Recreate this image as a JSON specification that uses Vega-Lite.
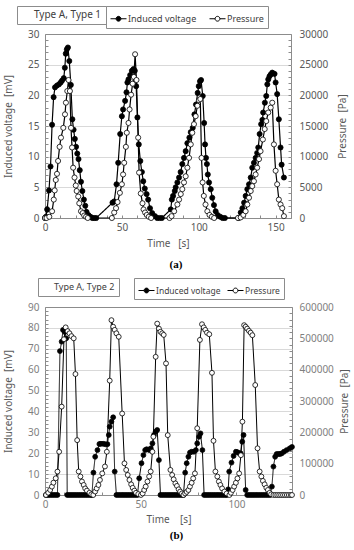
{
 "$schema": "https://vega.github.io/schema/vega-lite/v6.json",
 "background": "white",
 "padding": {"left": 3, "top": 5, "right": 2, "bottom": 2},
 "config": {
  "font": "Noto Sans",
  "view": {"stroke": "#8c8c8c", "strokeWidth": 1},
  "axis": {"domain": false, "labelFontSize": 10, "labelColor": "#595959", "titleFontSize": 10, "titleFontWeight": "normal", "titleColor": "#595959", "tickColor": "#8c8c8c", "labelFont": "Noto Sans", "titleFont": "Noto Sans"},
  "legend": {"labelFontSize": 9, "labelColor": "#404040", "labelFont": "Noto Sans"}
 },
 "datasets": {
  "a": [
   {"t":0,"v":0,"s":"V"},{"t":0.6,"v":0.2,"s":"V"},{"t":1.4,"v":1.4,"s":"V"},{"t":2.6,"v":4.5,"s":"V"},{"t":3.6,"v":8.4,"s":"V"},{"t":4.6,"v":15.2,"s":"V"},{"t":5.6,"v":19.7,"s":"V"},{"t":6.5,"v":21.3,"s":"V"},{"t":7.8,"v":21.6,"s":"V"},{"t":9.1,"v":21.8,"s":"V"},{"t":10.2,"v":22.1,"s":"V"},{"t":11.1,"v":22.4,"s":"V"},{"t":12.2,"v":22.8,"s":"V"},{"t":12.9,"v":24.5,"s":"V"},{"t":13.5,"v":26.8,"s":"V"},{"t":14.2,"v":27.5,"s":"V"},{"t":14.9,"v":27.8,"s":"V"},{"t":15.8,"v":25.6,"s":"V"},{"t":16.8,"v":21.7,"s":"V"},{"t":17.8,"v":16.1,"s":"V"},{"t":18.6,"v":14.4,"s":"V"},{"t":19.4,"v":12.9,"s":"V"},{"t":20.2,"v":11.6,"s":"V"},{"t":21.0,"v":10.5,"s":"V"},{"t":21.8,"v":9.6,"s":"V"},{"t":22.6,"v":7.8,"s":"V"},{"t":23.4,"v":5.9,"s":"V"},{"t":24.3,"v":4.4,"s":"V"},{"t":25.3,"v":3.0,"s":"V"},{"t":26.2,"v":2.0,"s":"V"},{"t":27.0,"v":1.0,"s":"V"},{"t":28.2,"v":0.5,"s":"V"},{"t":29.6,"v":0.2,"s":"V"},{"t":30.8,"v":0,"s":"V"},{"t":32.0,"v":0,"s":"V"},{"t":33.3,"v":0,"s":"V"},
   {"t":43.9,"v":2.5,"s":"V"},{"t":45.0,"v":2.7,"s":"V"},{"t":46.5,"v":5.5,"s":"V"},{"t":47.6,"v":9.0,"s":"V"},{"t":48.9,"v":13.7,"s":"V"},{"t":50.0,"v":16.6,"s":"V"},{"t":50.8,"v":17.7,"s":"V"},{"t":52.1,"v":19.1,"s":"V"},{"t":53.0,"v":20.5,"s":"V"},{"t":53.6,"v":22.1,"s":"V"},{"t":54.3,"v":22.6,"s":"V"},{"t":55.4,"v":23.3,"s":"V"},{"t":56.5,"v":24.0,"s":"V"},{"t":57.6,"v":24.3,"s":"V"},{"t":58.4,"v":24.0,"s":"V"},{"t":59.3,"v":21.5,"s":"V"},{"t":60.1,"v":16.4,"s":"V"},{"t":61.0,"v":12.0,"s":"V"},{"t":62.0,"v":9.3,"s":"V"},{"t":63.0,"v":7.5,"s":"V"},{"t":63.9,"v":6.0,"s":"V"},{"t":64.9,"v":4.8,"s":"V"},{"t":66.1,"v":3.9,"s":"V"},{"t":67.1,"v":3.0,"s":"V"},{"t":68.3,"v":1.6,"s":"V"},{"t":69.7,"v":0.8,"s":"V"},{"t":71.5,"v":0.3,"s":"V"},{"t":73.0,"v":0,"s":"V"},{"t":74.5,"v":0,"s":"V"},{"t":76.0,"v":0,"s":"V"},
   {"t":81.8,"v":1.4,"s":"V"},{"t":82.5,"v":3.0,"s":"V"},{"t":83.3,"v":3.6,"s":"V"},{"t":84.4,"v":4.4,"s":"V"},{"t":85.0,"v":5.0,"s":"V"},{"t":86.1,"v":5.8,"s":"V"},{"t":87.2,"v":6.6,"s":"V"},{"t":88.2,"v":7.5,"s":"V"},{"t":89.3,"v":8.8,"s":"V"},{"t":90.4,"v":9.8,"s":"V"},{"t":91.5,"v":10.9,"s":"V"},{"t":92.6,"v":12.2,"s":"V"},{"t":93.9,"v":13.1,"s":"V"},{"t":94.8,"v":14.0,"s":"V"},{"t":96.1,"v":14.7,"s":"V"},{"t":97.2,"v":16.9,"s":"V"},{"t":98.2,"v":18.5,"s":"V"},{"t":99.3,"v":20.4,"s":"V"},{"t":100.0,"v":21.5,"s":"V"},{"t":100.8,"v":22.3,"s":"V"},{"t":101.5,"v":22.5,"s":"V"},{"t":102.6,"v":19.9,"s":"V"},{"t":103.5,"v":15.5,"s":"V"},{"t":104.1,"v":12.0,"s":"V"},{"t":104.7,"v":9.8,"s":"V"},{"t":105.3,"v":8.8,"s":"V"},{"t":105.9,"v":7.1,"s":"V"},{"t":106.7,"v":5.8,"s":"V"},{"t":107.8,"v":4.7,"s":"V"},{"t":108.8,"v":3.3,"s":"V"},{"t":109.9,"v":2.1,"s":"V"},{"t":111.0,"v":1.1,"s":"V"},{"t":112.3,"v":0.5,"s":"V"},{"t":114.0,"v":0.2,"s":"V"},{"t":115.5,"v":0,"s":"V"},{"t":117.0,"v":0,"s":"V"},
   {"t":126.0,"v":0,"s":"V"},{"t":127.3,"v":0.9,"s":"V"},{"t":128.4,"v":1.6,"s":"V"},{"t":129.5,"v":2.5,"s":"V"},{"t":130.5,"v":3.6,"s":"V"},{"t":131.6,"v":4.7,"s":"V"},{"t":132.7,"v":5.5,"s":"V"},{"t":133.8,"v":6.6,"s":"V"},{"t":134.8,"v":8.2,"s":"V"},{"t":135.9,"v":9.0,"s":"V"},{"t":137.0,"v":9.8,"s":"V"},{"t":138.0,"v":10.6,"s":"V"},{"t":138.7,"v":11.5,"s":"V"},{"t":139.6,"v":13.7,"s":"V"},{"t":140.6,"v":15.3,"s":"V"},{"t":141.4,"v":16.0,"s":"V"},{"t":141.9,"v":17.2,"s":"V"},{"t":143.0,"v":18.8,"s":"V"},{"t":143.9,"v":19.9,"s":"V"},{"t":144.6,"v":21.8,"s":"V"},{"t":145.2,"v":22.6,"s":"V"},{"t":146.0,"v":23.1,"s":"V"},{"t":146.8,"v":23.4,"s":"V"},{"t":147.8,"v":23.7,"s":"V"},{"t":149.3,"v":23.5,"s":"V"},{"t":150.0,"v":22.1,"s":"V"},{"t":151.0,"v":20.2,"s":"V"},{"t":152.1,"v":16.1,"s":"V"},{"t":153.2,"v":11.5,"s":"V"},{"t":153.9,"v":8.7,"s":"V"},{"t":155.4,"v":6.6,"s":"V"},
   {"t":0,"v":0,"s":"P"},{"t":1.0,"v":0,"s":"P"},{"t":2.8,"v":200,"s":"P"},{"t":4.6,"v":1100,"s":"P"},{"t":5.7,"v":3000,"s":"P"},{"t":6.3,"v":4500,"s":"P"},{"t":7.0,"v":6200,"s":"P"},{"t":7.8,"v":7200,"s":"P"},{"t":8.5,"v":9300,"s":"P"},{"t":9.5,"v":11600,"s":"P"},{"t":10.4,"v":13100,"s":"P"},{"t":11.9,"v":14700,"s":"P"},{"t":13.0,"v":16900,"s":"P"},{"t":13.6,"v":18800,"s":"P"},{"t":14.5,"v":20700,"s":"P"},{"t":15.3,"v":22500,"s":"P"},{"t":16.2,"v":20700,"s":"P"},{"t":16.9,"v":14700,"s":"P"},{"t":17.6,"v":11500,"s":"P"},{"t":18.3,"v":8200,"s":"P"},{"t":19.2,"v":6600,"s":"P"},{"t":20.0,"v":5300,"s":"P"},{"t":20.6,"v":4400,"s":"P"},{"t":21.6,"v":3500,"s":"P"},{"t":22.3,"v":2400,"s":"P"},{"t":23.4,"v":1100,"s":"P"},{"t":24.5,"v":800,"s":"P"},{"t":25.5,"v":400,"s":"P"},{"t":26.7,"v":200,"s":"P"},{"t":27.8,"v":0,"s":"P"},
   {"t":43.5,"v":0,"s":"P"},{"t":45.0,"v":900,"s":"P"},{"t":46.2,"v":1600,"s":"P"},{"t":47.2,"v":2600,"s":"P"},{"t":48.7,"v":4100,"s":"P"},{"t":50.0,"v":5500,"s":"P"},{"t":50.8,"v":7100,"s":"P"},{"t":51.5,"v":9000,"s":"P"},{"t":52.6,"v":11600,"s":"P"},{"t":53.2,"v":13900,"s":"P"},{"t":54.3,"v":15500,"s":"P"},{"t":55.0,"v":17700,"s":"P"},{"t":56.0,"v":20100,"s":"P"},{"t":57.0,"v":21900,"s":"P"},{"t":57.8,"v":23000,"s":"P"},{"t":58.6,"v":26700,"s":"P"},{"t":59.5,"v":22500,"s":"P"},{"t":60.6,"v":13100,"s":"P"},{"t":61.2,"v":7400,"s":"P"},{"t":62.3,"v":4000,"s":"P"},{"t":63.4,"v":2400,"s":"P"},{"t":64.1,"v":1400,"s":"P"},{"t":65.1,"v":900,"s":"P"},{"t":66.2,"v":500,"s":"P"},{"t":67.5,"v":200,"s":"P"},{"t":69.0,"v":0,"s":"P"},
   {"t":81.0,"v":0,"s":"P"},{"t":82.3,"v":300,"s":"P"},{"t":84.0,"v":1100,"s":"P"},{"t":86.1,"v":2200,"s":"P"},{"t":87.2,"v":3000,"s":"P"},{"t":88.3,"v":3900,"s":"P"},{"t":89.3,"v":4700,"s":"P"},{"t":90.4,"v":5800,"s":"P"},{"t":91.5,"v":6800,"s":"P"},{"t":92.6,"v":8200,"s":"P"},{"t":93.7,"v":9800,"s":"P"},{"t":94.8,"v":12000,"s":"P"},{"t":95.8,"v":13900,"s":"P"},{"t":96.9,"v":15300,"s":"P"},{"t":98.0,"v":16600,"s":"P"},{"t":99.1,"v":18300,"s":"P"},{"t":100.1,"v":19200,"s":"P"},{"t":101.0,"v":19400,"s":"P"},{"t":101.8,"v":9800,"s":"P"},{"t":102.5,"v":5800,"s":"P"},{"t":103.3,"v":3600,"s":"P"},{"t":104.4,"v":2200,"s":"P"},{"t":105.6,"v":1100,"s":"P"},{"t":107.0,"v":500,"s":"P"},{"t":108.5,"v":200,"s":"P"},{"t":110.0,"v":0,"s":"P"},
   {"t":125.5,"v":0,"s":"P"},{"t":127.3,"v":100,"s":"P"},{"t":129.0,"v":500,"s":"P"},{"t":130.5,"v":1100,"s":"P"},{"t":131.6,"v":2200,"s":"P"},{"t":132.7,"v":3300,"s":"P"},{"t":133.8,"v":4400,"s":"P"},{"t":134.8,"v":5200,"s":"P"},{"t":135.9,"v":6000,"s":"P"},{"t":137.0,"v":7100,"s":"P"},{"t":138.0,"v":8200,"s":"P"},{"t":139.2,"v":9600,"s":"P"},{"t":140.2,"v":10900,"s":"P"},{"t":141.7,"v":12800,"s":"P"},{"t":142.9,"v":14500,"s":"P"},{"t":143.9,"v":15800,"s":"P"},{"t":145.2,"v":17200,"s":"P"},{"t":146.8,"v":18000,"s":"P"},{"t":147.8,"v":18800,"s":"P"},{"t":148.9,"v":12000,"s":"P"},{"t":150.0,"v":7700,"s":"P"},{"t":151.0,"v":5500,"s":"P"},{"t":152.1,"v":3000,"s":"P"},{"t":153.2,"v":2200,"s":"P"},{"t":154.3,"v":1600,"s":"P"},{"t":155.4,"v":300,"s":"P"}
  ],
  "b": [
   {"t":0.5,"v":0,"s":"V"},{"t":1.5,"v":0,"s":"V"},{"t":2.5,"v":0,"s":"V"},{"t":3.5,"v":0,"s":"V"},{"t":4.5,"v":0,"s":"V"},{"t":5.5,"v":0,"s":"V"},{"t":6.5,"v":0,"s":"V"},{"t":7.8,"v":68.9,"s":"V"},{"t":8.7,"v":73.4,"s":"V"},{"t":9.4,"v":79.0,"s":"V"},{"t":10.4,"v":78.0,"s":"V"},{"t":11.1,"v":75.0,"s":"V"},{"t":11.6,"v":0,"s":"V"},{"t":12.6,"v":0,"s":"V"},{"t":13.6,"v":0,"s":"V"},{"t":14.6,"v":0,"s":"V"},{"t":15.6,"v":0,"s":"V"},{"t":16.6,"v":0,"s":"V"},{"t":17.6,"v":0,"s":"V"},{"t":18.6,"v":0,"s":"V"},{"t":19.6,"v":0,"s":"V"},{"t":20.6,"v":0,"s":"V"},{"t":21.6,"v":0,"s":"V"},{"t":22.6,"v":0,"s":"V"},{"t":23.6,"v":0,"s":"V"},{"t":24.5,"v":0,"s":"V"},
   {"t":25.3,"v":10.7,"s":"V"},{"t":26.2,"v":18.3,"s":"V"},{"t":27.4,"v":21.5,"s":"V"},{"t":28.4,"v":24.4,"s":"V"},{"t":29.2,"v":24.5,"s":"V"},{"t":30.4,"v":24.5,"s":"V"},{"t":31.5,"v":24.3,"s":"V"},{"t":32.6,"v":24.3,"s":"V"},{"t":33.3,"v":28.7,"s":"V"},{"t":33.8,"v":32.7,"s":"V"},{"t":34.7,"v":35.1,"s":"V"},{"t":35.6,"v":37.2,"s":"V"},{"t":36.4,"v":11.2,"s":"V"},{"t":37.3,"v":0,"s":"V"},{"t":38.3,"v":0,"s":"V"},{"t":39.3,"v":0,"s":"V"},{"t":40.3,"v":0,"s":"V"},{"t":41.3,"v":0,"s":"V"},{"t":42.3,"v":0,"s":"V"},{"t":43.3,"v":0,"s":"V"},{"t":44.3,"v":0,"s":"V"},{"t":45.3,"v":0,"s":"V"},{"t":46.3,"v":0,"s":"V"},{"t":47.3,"v":0,"s":"V"},{"t":48.3,"v":0,"s":"V"},
   {"t":49.2,"v":8.0,"s":"V"},{"t":50.4,"v":15.2,"s":"V"},{"t":51.4,"v":19.1,"s":"V"},{"t":52.3,"v":21.5,"s":"V"},{"t":53.1,"v":21.9,"s":"V"},{"t":54.4,"v":21.5,"s":"V"},{"t":55.2,"v":22.3,"s":"V"},{"t":56.1,"v":24.7,"s":"V"},{"t":56.9,"v":28.7,"s":"V"},{"t":57.8,"v":30.3,"s":"V"},{"t":58.6,"v":31.1,"s":"V"},{"t":59.5,"v":16.7,"s":"V"},{"t":60.3,"v":0,"s":"V"},{"t":61.3,"v":0,"s":"V"},{"t":62.3,"v":0,"s":"V"},{"t":63.3,"v":0,"s":"V"},{"t":64.3,"v":0,"s":"V"},{"t":65.3,"v":0,"s":"V"},{"t":66.3,"v":0,"s":"V"},{"t":67.3,"v":0,"s":"V"},{"t":68.3,"v":0,"s":"V"},{"t":69.3,"v":0,"s":"V"},{"t":70.3,"v":0,"s":"V"},{"t":71.3,"v":0,"s":"V"},{"t":72.3,"v":0,"s":"V"},
   {"t":73.2,"v":10.7,"s":"V"},{"t":74.0,"v":15.2,"s":"V"},{"t":74.9,"v":18.3,"s":"V"},{"t":75.7,"v":20.3,"s":"V"},{"t":76.6,"v":20.7,"s":"V"},{"t":77.8,"v":20.7,"s":"V"},{"t":78.8,"v":21.5,"s":"V"},{"t":79.5,"v":24.7,"s":"V"},{"t":80.5,"v":27.9,"s":"V"},{"t":81.2,"v":29.5,"s":"V"},{"t":82.2,"v":21.5,"s":"V"},{"t":83.1,"v":0,"s":"V"},{"t":84.1,"v":0,"s":"V"},{"t":85.1,"v":0,"s":"V"},{"t":86.1,"v":0,"s":"V"},{"t":87.1,"v":0,"s":"V"},{"t":88.1,"v":0,"s":"V"},{"t":89.1,"v":0,"s":"V"},{"t":90.1,"v":0,"s":"V"},{"t":91.1,"v":0,"s":"V"},{"t":92.1,"v":0,"s":"V"},{"t":93.1,"v":0,"s":"V"},{"t":94.1,"v":0,"s":"V"},{"t":95.0,"v":0,"s":"V"},
   {"t":95.7,"v":2.7,"s":"V"},{"t":96.2,"v":11.2,"s":"V"},{"t":97.4,"v":15.5,"s":"V"},{"t":98.5,"v":18.7,"s":"V"},{"t":99.7,"v":20.7,"s":"V"},{"t":100.5,"v":20.5,"s":"V"},{"t":101.4,"v":20.0,"s":"V"},{"t":102.2,"v":19.9,"s":"V"},{"t":103.0,"v":25.5,"s":"V"},{"t":103.7,"v":28.7,"s":"V"},{"t":104.8,"v":2.4,"s":"V"},{"t":105.6,"v":0,"s":"V"},{"t":106.6,"v":0,"s":"V"},{"t":107.6,"v":0,"s":"V"},{"t":108.6,"v":0,"s":"V"},{"t":109.6,"v":0,"s":"V"},{"t":110.6,"v":0,"s":"V"},{"t":111.6,"v":0,"s":"V"},{"t":112.6,"v":0,"s":"V"},{"t":113.6,"v":0,"s":"V"},{"t":114.6,"v":0,"s":"V"},{"t":115.6,"v":0,"s":"V"},{"t":116.6,"v":0,"s":"V"},{"t":117.6,"v":0,"s":"V"},
   {"t":118.5,"v":4.0,"s":"V"},{"t":119.3,"v":13.6,"s":"V"},{"t":120.2,"v":18.3,"s":"V"},{"t":121.0,"v":19.6,"s":"V"},{"t":121.9,"v":19.6,"s":"V"},{"t":122.7,"v":19.6,"s":"V"},{"t":123.6,"v":19.9,"s":"V"},{"t":124.8,"v":20.7,"s":"V"},{"t":126.2,"v":21.5,"s":"V"},{"t":127.8,"v":22.3,"s":"V"},{"t":129.0,"v":23.0,"s":"V"},
   {"t":0.5,"v":0,"s":"P"},{"t":1.7,"v":7300,"s":"P"},{"t":2.7,"v":16000,"s":"P"},{"t":3.6,"v":26700,"s":"P"},{"t":4.4,"v":39300,"s":"P"},{"t":5.6,"v":53300,"s":"P"},{"t":6.5,"v":74700,"s":"P"},{"t":7.4,"v":138000,"s":"P"},{"t":8.7,"v":282000,"s":"P"},{"t":9.9,"v":497000,"s":"P"},{"t":10.8,"v":535000,"s":"P"},{"t":11.8,"v":523000,"s":"P"},{"t":12.8,"v":516000,"s":"P"},{"t":13.8,"v":507000,"s":"P"},{"t":15.0,"v":500000,"s":"P"},{"t":15.9,"v":386000,"s":"P"},{"t":16.8,"v":175000,"s":"P"},{"t":17.6,"v":75000,"s":"P"},{"t":18.5,"v":59000,"s":"P"},{"t":19.3,"v":43000,"s":"P"},{"t":20.2,"v":32000,"s":"P"},{"t":21.0,"v":21000,"s":"P"},{"t":21.9,"v":14000,"s":"P"},{"t":23.2,"v":7000,"s":"P"},{"t":24.2,"v":2000,"s":"P"},{"t":25.2,"v":0,"s":"P"},
   {"t":26.2,"v":11000,"s":"P"},{"t":27.0,"v":21000,"s":"P"},{"t":27.9,"v":32000,"s":"P"},{"t":28.7,"v":48000,"s":"P"},{"t":29.9,"v":69000,"s":"P"},{"t":31.3,"v":91000,"s":"P"},{"t":32.3,"v":138000,"s":"P"},{"t":33.8,"v":365000,"s":"P"},{"t":34.7,"v":558000,"s":"P"},{"t":35.6,"v":537000,"s":"P"},{"t":36.4,"v":527000,"s":"P"},{"t":37.3,"v":516000,"s":"P"},{"t":38.5,"v":505000,"s":"P"},{"t":40.3,"v":260000,"s":"P"},{"t":41.5,"v":101000,"s":"P"},{"t":42.4,"v":80000,"s":"P"},{"t":43.2,"v":64000,"s":"P"},{"t":44.1,"v":48000,"s":"P"},{"t":45.0,"v":34000,"s":"P"},{"t":45.8,"v":23000,"s":"P"},{"t":46.7,"v":14000,"s":"P"},{"t":47.5,"v":7000,"s":"P"},{"t":48.7,"v":3000,"s":"P"},{"t":50.1,"v":0,"s":"P"},
   {"t":51.0,"v":5000,"s":"P"},{"t":51.8,"v":16000,"s":"P"},{"t":52.6,"v":27000,"s":"P"},{"t":53.5,"v":43000,"s":"P"},{"t":54.4,"v":59000,"s":"P"},{"t":55.2,"v":75000,"s":"P"},{"t":56.1,"v":138000,"s":"P"},{"t":56.6,"v":186000,"s":"P"},{"t":57.8,"v":441000,"s":"P"},{"t":58.6,"v":547000,"s":"P"},{"t":59.5,"v":531000,"s":"P"},{"t":60.3,"v":521000,"s":"P"},{"t":61.2,"v":516000,"s":"P"},{"t":62.0,"v":511000,"s":"P"},{"t":63.2,"v":420000,"s":"P"},{"t":64.1,"v":191000,"s":"P"},{"t":65.5,"v":80000,"s":"P"},{"t":66.4,"v":64000,"s":"P"},{"t":67.2,"v":50000,"s":"P"},{"t":68.1,"v":37000,"s":"P"},{"t":68.9,"v":29000,"s":"P"},{"t":69.8,"v":18000,"s":"P"},{"t":70.6,"v":11000,"s":"P"},{"t":71.5,"v":5000,"s":"P"},{"t":72.3,"v":0,"s":"P"},
   {"t":73.2,"v":5000,"s":"P"},{"t":74.0,"v":10000,"s":"P"},{"t":74.9,"v":16000,"s":"P"},{"t":75.7,"v":27000,"s":"P"},{"t":76.6,"v":39000,"s":"P"},{"t":77.4,"v":53000,"s":"P"},{"t":78.3,"v":69000,"s":"P"},{"t":79.5,"v":213000,"s":"P"},{"t":80.9,"v":495000,"s":"P"},{"t":82.0,"v":545000,"s":"P"},{"t":82.9,"v":535000,"s":"P"},{"t":83.7,"v":527000,"s":"P"},{"t":84.6,"v":518000,"s":"P"},{"t":85.8,"v":513000,"s":"P"},{"t":87.2,"v":390000,"s":"P"},{"t":88.0,"v":173000,"s":"P"},{"t":89.0,"v":75000,"s":"P"},{"t":90.0,"v":59000,"s":"P"},{"t":90.8,"v":43000,"s":"P"},{"t":91.6,"v":32000,"s":"P"},{"t":92.5,"v":21000,"s":"P"},{"t":93.7,"v":11000,"s":"P"},{"t":94.9,"v":5000,"s":"P"},{"t":96.3,"v":0,"s":"P"},
   {"t":97.1,"v":7000,"s":"P"},{"t":98.0,"v":16000,"s":"P"},{"t":98.8,"v":27000,"s":"P"},{"t":99.7,"v":39000,"s":"P"},{"t":100.5,"v":53000,"s":"P"},{"t":101.4,"v":69000,"s":"P"},{"t":102.3,"v":127000,"s":"P"},{"t":103.1,"v":234000,"s":"P"},{"t":104.0,"v":542000,"s":"P"},{"t":104.8,"v":537000,"s":"P"},{"t":105.6,"v":531000,"s":"P"},{"t":106.5,"v":524000,"s":"P"},{"t":107.4,"v":518000,"s":"P"},{"t":108.3,"v":510000,"s":"P"},{"t":109.8,"v":351000,"s":"P"},{"t":111.0,"v":149000,"s":"P"},{"t":112.1,"v":75000,"s":"P"},{"t":113.0,"v":59000,"s":"P"},{"t":113.8,"v":45000,"s":"P"},{"t":114.7,"v":34000,"s":"P"},{"t":115.6,"v":23000,"s":"P"},{"t":116.4,"v":16000,"s":"P"},{"t":117.3,"v":7000,"s":"P"},{"t":118.1,"v":2000,"s":"P"},{"t":119.3,"v":0,"s":"P"},{"t":120.3,"v":0,"s":"P"},{"t":121.3,"v":0,"s":"P"},{"t":122.3,"v":0,"s":"P"},{"t":123.3,"v":0,"s":"P"},{"t":124.3,"v":0,"s":"P"},{"t":125.3,"v":0,"s":"P"},{"t":126.3,"v":0,"s":"P"},{"t":127.3,"v":0,"s":"P"},{"t":128.3,"v":0,"s":"P"},{"t":129.0,"v":0,"s":"P"}
  ]
 },
 "vconcat": [
  {
   "vconcat": [
    {
     "width": 246, "height": 184,
     "data": {"name": "a"},
     "title": {"text": "(a)", "orient": "bottom", "font": "Liberation Serif", "fontWeight": "bold", "fontSize": 11, "color": "#000000", "dx": 8, "offset": 11},
     "encoding": {
      "x": {"field": "t", "type": "quantitative", "scale": {"domain": [0, 160], "nice": false},
       "axis": {"title": "Time\u00a0\u00a0\u00a0[s]", "values": [0,10,20,30,40,50,60,70,80,90,100,110,120,130,140,150,160], "labelExpr": "datum.value % 50 === 0 ? datum.label : ''", "tickSize": -3, "labelPadding": 7, "grid": false, "labelFlush": false, "labelOverlap": false, "titlePadding": 6}}
     },
     "layer": [
      {
       "transform": [{"filter": "datum.s === 'V'"}],
       "encoding": {
        "y": {"field": "v", "type": "quantitative", "scale": {"domain": [0, 30], "nice": false},
         "axis": {"title": "Induced voltage\u00a0\u00a0[mV]", "values": [0,1,2,3,4,5,6,7,8,9,10,11,12,13,14,15,16,17,18,19,20,21,22,23,24,25,26,27,28,29,30], "labelExpr": "datum.value % 5 === 0 ? datum.label : ''", "tickSize": -3, "labelPadding": 9, "labelOverlap": false, "grid": true, "gridColor": "#d9d9d9", "gridOpacity": {"condition": {"test": "datum.value % 5 === 0 && datum.value > 0 && datum.value < 30", "value": 1}, "value": 0}, "titlePadding": 14}}
       },
       "layer": [
        {"mark": {"type": "line", "color": "black", "strokeWidth": 1.2},
         "encoding": {"strokeDash": {"datum": "Type A, Type 1", "type": "nominal", "scale": {"range": [[1, 0]]},
          "legend": {"orient": "none", "legendX": -28, "legendY": -28, "title": null, "strokeColor": "#8c8c8c", "padding": 4, "symbolOpacity": 0, "symbolSize": 1, "symbolStrokeWidth": 0, "labelOffset": 3, "labelFontSize": 10}}}},
        {"mark": {"type": "point", "shape": "circle", "filled": true, "size": 26, "stroke": "black", "strokeWidth": 0.8, "opacity": 1},
         "encoding": {"fill": {"field": "s", "type": "nominal", "scale": {"domain": ["V", "P"], "range": ["black", "white"]},
          "legend": {"orient": "none", "legendX": 61, "legendY": -28, "title": null, "direction": "horizontal", "strokeColor": "#8c8c8c", "padding": 4, "symbolType": "M-1,0H-0.3M0.3,0H1M-0.3,0A0.3,0.3,0,1,1,0.3,0A0.3,0.3,0,1,1,-0.3,0Z", "symbolSize": 256, "symbolStrokeColor": "black", "symbolStrokeWidth": 1, "labelOffset": 1, "columnPadding": 10, "labelExpr": "datum.value === 'V' ? 'Induced voltage' : 'Pressure'"}}}}
       ]
      },
      {
       "transform": [{"filter": "datum.s === 'P'"}],
       "encoding": {
        "y": {"field": "v", "type": "quantitative", "scale": {"domain": [0, 30000], "nice": false},
         "axis": {"orient": "right", "title": "Pressure\u00a0\u00a0[Pa]", "titleAngle": -90, "format": "d", "values": [0,1000,2000,3000,4000,5000,6000,7000,8000,9000,10000,11000,12000,13000,14000,15000,16000,17000,18000,19000,20000,21000,22000,23000,24000,25000,26000,27000,28000,29000,30000], "labelExpr": "datum.value % 5000 === 0 ? datum.label : ''", "tickSize": -3, "labelPadding": 11, "labelOverlap": false, "grid": false, "titlePadding": 20}}
       },
       "layer": [
        {"mark": {"type": "line", "color": "black", "strokeWidth": 1.2}},
        {"mark": {"type": "point", "shape": "circle", "filled": true, "size": 26, "stroke": "black", "strokeWidth": 0.8, "opacity": 1},
         "encoding": {"fill": {"field": "s", "type": "nominal", "scale": {"domain": ["V", "P"], "range": ["black", "white"]}}}}
       ]
      }
     ],
     "resolve": {"scale": {"y": "independent"}}
    }
   ],
   "resolve": {"scale": {"fill": "independent", "strokeDash": "independent"}}
  },
  {
   "vconcat": [
    {
     "width": 247, "height": 188,
     "data": {"name": "b"},
     "title": {"text": "(b)", "orient": "bottom", "font": "Liberation Serif", "fontWeight": "bold", "fontSize": 11, "color": "#000000", "dx": 8, "offset": 6},
     "encoding": {
      "x": {"field": "t", "type": "quantitative", "scale": {"domain": [0, 129], "nice": false},
       "axis": {"title": "Time\u00a0\u00a0\u00a0\u00a0[s]", "values": [0,10,20,30,40,50,60,70,80,90,100,110,120], "labelExpr": "datum.value % 50 === 0 ? datum.label : ''", "tickSize": -3, "labelPadding": 7, "grid": false, "labelFlush": false, "labelOverlap": false, "titlePadding": 5, "labelColor": "#7f7f7f"}}
     },
     "layer": [
      {
       "transform": [{"filter": "datum.s === 'V'"}],
       "encoding": {
        "y": {"field": "v", "type": "quantitative", "scale": {"domain": [0, 90], "nice": false},
         "axis": {"title": "Induced voltage\u00a0\u00a0[mV]", "values": [0,2,4,6,8,10,12,14,16,18,20,22,24,26,28,30,32,34,36,38,40,42,44,46,48,50,52,54,56,58,60,62,64,66,68,70,72,74,76,78,80,82,84,86,88,90], "labelExpr": "datum.value % 10 === 0 ? datum.label : ''", "tickSize": -3, "labelPadding": 9, "labelOverlap": false, "grid": true, "gridColor": "#d9d9d9", "gridOpacity": {"condition": {"test": "datum.value % 10 === 0 && datum.value > 0 && datum.value < 90", "value": 1}, "value": 0}, "titlePadding": 14, "labelColor": "#7f7f7f"}}
       },
       "layer": [
        {"mark": {"type": "line", "color": "black", "strokeWidth": 1},
         "encoding": {"strokeDash": {"datum": "Type A, Type 2", "type": "nominal", "scale": {"range": [[1, 0]]},
          "legend": {"orient": "none", "legendX": -7, "legendY": -29, "title": null, "strokeColor": "#8c8c8c", "padding": 4, "symbolOpacity": 0, "symbolSize": 1, "symbolStrokeWidth": 0, "labelOffset": 3, "labelFontSize": 9}}}},
        {"mark": {"type": "point", "shape": "circle", "filled": true, "size": 24, "stroke": "black", "strokeWidth": 0.8, "opacity": 1},
         "encoding": {"fill": {"field": "s", "type": "nominal", "scale": {"domain": ["V", "P"], "range": ["black", "white"]},
          "legend": {"orient": "none", "legendX": 89, "legendY": -29, "title": null, "direction": "horizontal", "strokeColor": "#8c8c8c", "padding": 4, "labelFontSize": 8.5, "symbolType": "M-1,0H-0.3M0.3,0H1M-0.3,0A0.3,0.3,0,1,1,0.3,0A0.3,0.3,0,1,1,-0.3,0Z", "symbolSize": 256, "symbolStrokeColor": "black", "symbolStrokeWidth": 1, "labelOffset": 1, "columnPadding": 4, "labelExpr": "datum.value === 'V' ? 'Induced voltage' : 'Pressure'"}}}}
       ]
      },
      {
       "transform": [{"filter": "datum.s === 'P'"}],
       "encoding": {
        "y": {"field": "v", "type": "quantitative", "scale": {"domain": [0, 600000], "nice": false},
         "axis": {"orient": "right", "title": "Pressure\u00a0\u00a0[Pa]", "titleAngle": -90, "format": "d", "values": [0,20000,40000,60000,80000,100000,120000,140000,160000,180000,200000,220000,240000,260000,280000,300000,320000,340000,360000,380000,400000,420000,440000,460000,480000,500000,520000,540000,560000,580000,600000], "labelExpr": "datum.value % 100000 === 0 ? datum.label : ''", "tickSize": -3, "labelPadding": 10, "labelOverlap": false, "grid": false, "titlePadding": 16, "labelColor": "#7f7f7f"}}
       },
       "layer": [
        {"mark": {"type": "line", "color": "black", "strokeWidth": 1}},
        {"mark": {"type": "point", "shape": "circle", "filled": true, "size": 24, "stroke": "black", "strokeWidth": 0.8, "opacity": 1},
         "encoding": {"fill": {"field": "s", "type": "nominal", "scale": {"domain": ["V", "P"], "range": ["black", "white"]}}}}
       ]
      }
     ],
     "resolve": {"scale": {"y": "independent"}}
    }
   ],
   "resolve": {"scale": {"fill": "independent", "strokeDash": "independent"}}
  }
 ],
 "spacing": 6,
 "resolve": {"scale": {"fill": "independent", "strokeDash": "independent"}}
}
